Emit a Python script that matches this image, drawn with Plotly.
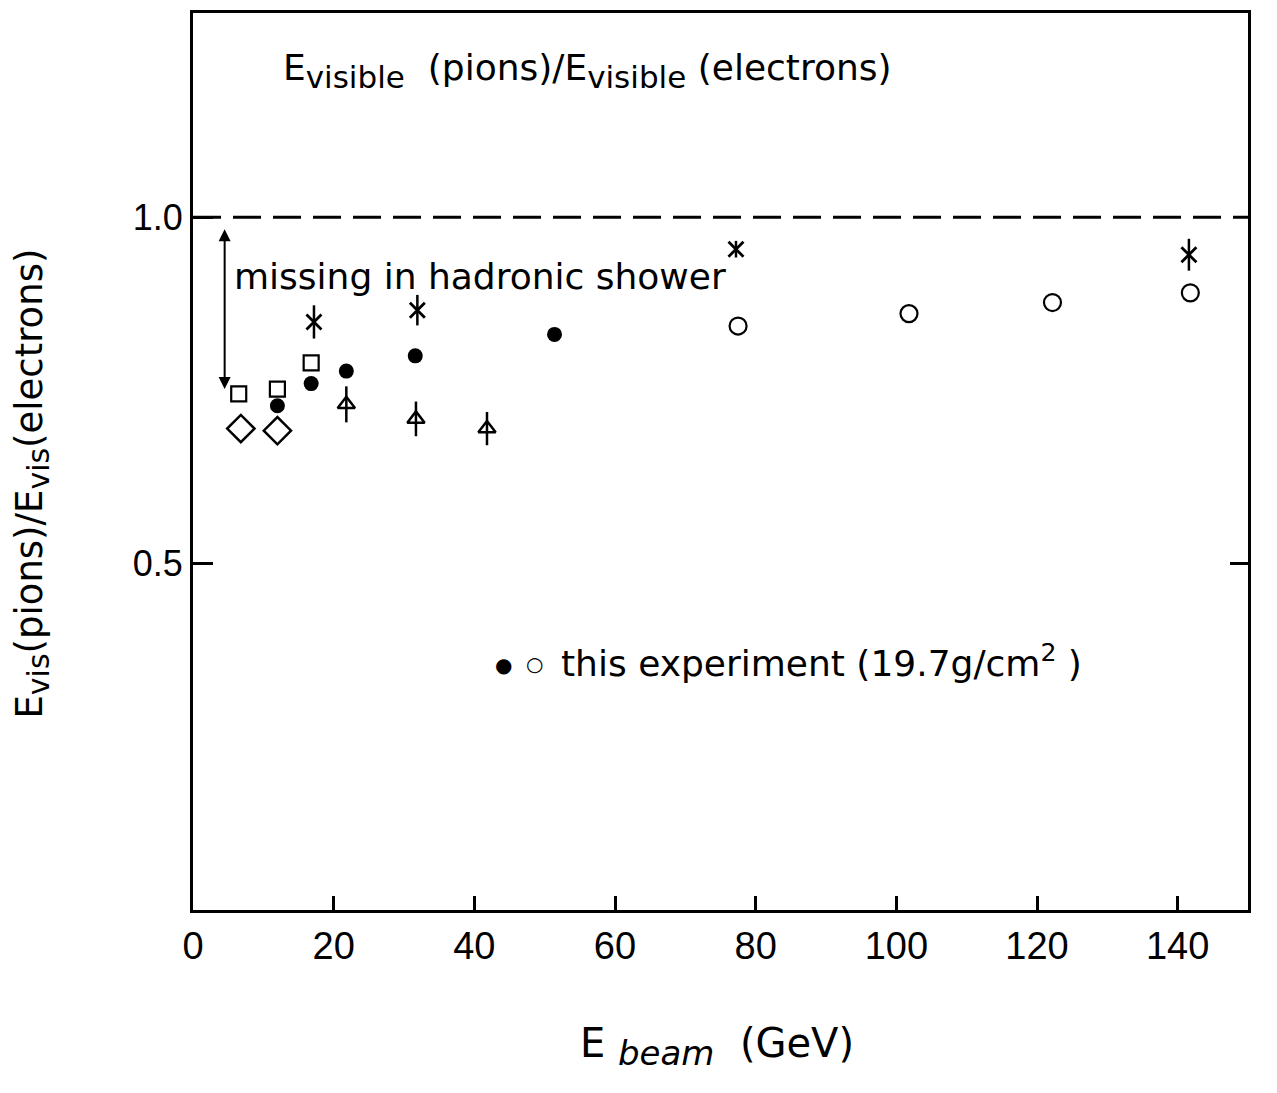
import plotly.graph_objects as go

# ---- data ----
square_x = [6.5, 12.0, 16.8]
square_y = [0.745, 0.752, 0.790]

diamond_x = [6.8, 12.0]
diamond_y = [0.695, 0.692]

filled_x = [12.0, 16.8, 21.8, 31.6, 51.4]
filled_y = [0.728, 0.760, 0.778, 0.800, 0.831]

open_x = [77.5, 101.8, 122.2, 141.8]
open_y = [0.843, 0.861, 0.877, 0.891]

tri_x = [21.8, 31.7, 41.8]
tri_y = [0.730, 0.709, 0.695]
tri_err = [0.026, 0.025, 0.024]

ast_x = [17.2, 31.9, 77.2, 141.6]
ast_y = [0.849, 0.866, 0.954, 0.946]
ast_err = [0.024, 0.022, 0.012, 0.023]

x_ticks = [0, 20, 40, 60, 80, 100, 120, 140]
y_ticks = [0.5, 1.0]
y_ticktext = ["0.5", "1.0"]

FONT = "DejaVu Sans"
TICKFONT = "Liberation Sans"
BLACK = "black"


def sub(txt, px):
    return '<sub><span style="font-size:%dpx">%s</span></sub>' % (px, txt)


fig = go.Figure()

fig.add_trace(go.Scatter(x=square_x, y=square_y, mode="markers",
                         marker=dict(symbol="square-open", size=15, color=BLACK, line=dict(width=2.2)),
                         showlegend=False))
fig.add_trace(go.Scatter(x=diamond_x, y=diamond_y, mode="markers",
                         marker=dict(symbol="diamond-open", size=21, color=BLACK, line=dict(width=2.5)),
                         showlegend=False))
fig.add_trace(go.Scatter(x=filled_x, y=filled_y, mode="markers",
                         marker=dict(symbol="circle", size=15, color=BLACK),
                         showlegend=False))
fig.add_trace(go.Scatter(x=open_x, y=open_y, mode="markers",
                         marker=dict(symbol="circle-open", size=17, color=BLACK, line=dict(width=2.2)),
                         showlegend=False))
fig.add_trace(go.Scatter(x=tri_x, y=tri_y, mode="markers",
                         marker=dict(symbol="triangle-up-open", size=15, color=BLACK, line=dict(width=2.5)),
                         error_y=dict(type="data", array=tri_err, visible=True, color=BLACK,
                                      thickness=2.5, width=0),
                         showlegend=False))
fig.add_trace(go.Scatter(x=ast_x, y=ast_y, mode="markers",
                         marker=dict(symbol="x-thin-open", size=15, color=BLACK, line=dict(width=2.8)),
                         error_y=dict(type="data", array=ast_err, visible=True, color=BLACK,
                                      thickness=2.5, width=0),
                         showlegend=False))

# dashed reference line at 1.0
fig.add_shape(type="line", xref="x", yref="y", x0=0, x1=150, y0=1.0, y1=1.0,
              line=dict(color=BLACK, width=3, dash="28px,12px"))

# double-headed arrow "missing in hadronic shower"
fig.add_annotation(x=4.5, y=0.752, ax=4.5, ay=0.985, xref="x", yref="y",
                   axref="x", ayref="y", text="", showarrow=True,
                   arrowhead=2, startarrowhead=2, arrowside="end+start",
                   arrowsize=1.2, startarrowsize=1.2, arrowwidth=2, arrowcolor=BLACK)

fig.add_annotation(x=5.6, y=0.915, xref="x", yref="y", text="missing in hadronic shower",
                   showarrow=False, xanchor="left", yanchor="middle",
                   font=dict(family=FONT, size=36, color=BLACK))

# title inside the frame
fig.add_annotation(x=0.083, y=0.935, xref="paper", yref="paper",
                   text="E" + sub("visible", 31) + "  (pions)/E" + sub("visible", 31) + " (electrons)",
                   showarrow=False, xanchor="left", yanchor="middle",
                   font=dict(family=FONT, size=36, color=BLACK))

# key
fig.add_annotation(x=44.2, y=0.353, xref="x", yref="y", text="●", showarrow=False,
                   xanchor="center", yanchor="middle", font=dict(family="DejaVu Sans", size=20, color=BLACK))
fig.add_annotation(x=48.5, y=0.355, xref="x", yref="y", text="○", showarrow=False,
                   xanchor="center", yanchor="middle", font=dict(family="DejaVu Sans", size=20, color=BLACK))
fig.add_annotation(x=52.0, y=0.36, xref="x", yref="y",
                   text="this experiment (19.7g/cm<sup>2</sup> )", showarrow=False,
                   xanchor="left", yanchor="middle", font=dict(family=FONT, size=36, color=BLACK))

# axis titles
fig.add_annotation(x=0.497, y=-0.152, xref="paper", yref="paper",
                   text="E " + sub("<i>beam</i>", 34) + "  (GeV)", showarrow=False,
                   xanchor="center", yanchor="middle", font=dict(family=FONT, size=40, color=BLACK))
fig.add_annotation(x=-0.152, y=0.475, xref="paper", yref="paper", textangle=-90,
                   text="E" + sub("vis", 30) + "(pions)/E" + sub("vis", 30) + "(electrons)",
                   showarrow=False,
                   xanchor="center", yanchor="middle", font=dict(family=FONT, size=37, color=BLACK))

fig.update_layout(
    width=1277, height=1093,
    margin=dict(l=193, r=29, t=10, b=183),
    plot_bgcolor="white", paper_bgcolor="white",
    showlegend=False,
    xaxis=dict(range=[0, 150], tickvals=x_ticks, ticks="inside", ticklen=14, tickwidth=3,
               tickcolor=BLACK, showline=True, linewidth=3, linecolor=BLACK, mirror=True,
               showgrid=False, zeroline=False,
               tickfont=dict(family=TICKFONT, size=38, color=BLACK)),
    yaxis=dict(range=[0, 1.295], tickvals=y_ticks, ticktext=y_ticktext, ticks="inside",
               ticklen=20, tickwidth=3, tickcolor=BLACK, showline=True, linewidth=3,
               linecolor=BLACK, mirror=True, showgrid=False, zeroline=False,
               tickfont=dict(family=TICKFONT, size=36, color=BLACK)),
    yaxis2=dict(range=[0, 1.295], overlaying="y", side="right", tickvals=[0.5],
                ticks="inside", ticklen=18, tickwidth=3, tickcolor=BLACK,
                showticklabels=False, showline=False, showgrid=False, zeroline=False),
)

# invisible trace that activates the right-hand axis
fig.add_trace(go.Scatter(x=[None], y=[None], yaxis="y2", showlegend=False, hoverinfo="skip"))

fig.write_html("out.html")
